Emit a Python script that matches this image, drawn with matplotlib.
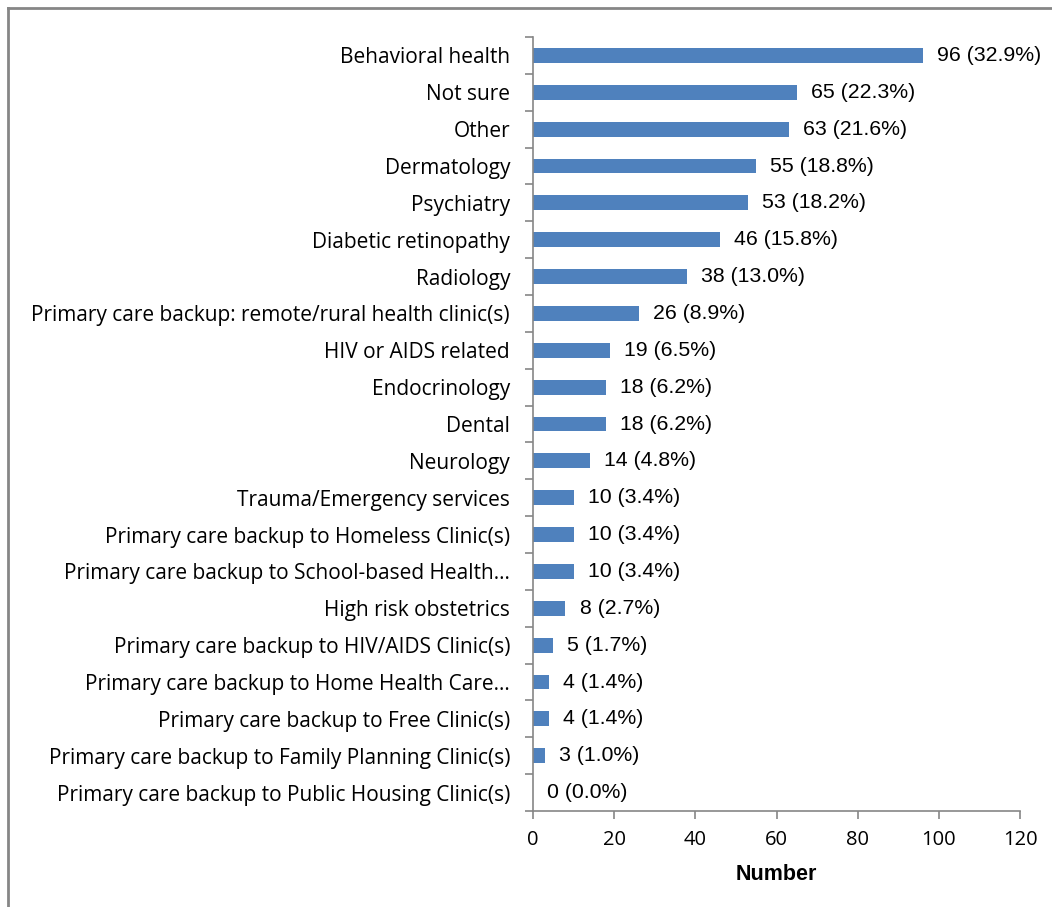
import matplotlib
matplotlib.use("Agg")
import matplotlib.pyplot as plt
from matplotlib.lines import Line2D

categories = [
    "Behavioral health",
    "Not sure",
    "Other",
    "Dermatology",
    "Psychiatry",
    "Diabetic retinopathy",
    "Radiology",
    "Primary care backup: remote/rural health clinic(s)",
    "HIV or AIDS related",
    "Endocrinology",
    "Dental",
    "Neurology",
    "Trauma/Emergency services",
    "Primary care backup to Homeless Clinic(s)",
    "Primary care backup to School-based Health\u2026",
    "High risk obstetrics",
    "Primary care backup to HIV/AIDS Clinic(s)",
    "Primary care backup to Home Health Care\u2026",
    "Primary care backup to Free Clinic(s)",
    "Primary care backup to Family Planning Clinic(s)",
    "Primary care backup to Public Housing Clinic(s)",
]
counts = [96, 65, 63, 55, 53, 46, 38, 26, 19, 18, 18, 14, 10, 10, 10, 8, 5, 4, 4, 3, 0]
percents = [32.9, 22.3, 21.6, 18.8, 18.2, 15.8, 13.0, 8.9, 6.5, 6.2, 6.2, 4.8, 3.4, 3.4, 3.4, 2.7, 1.7, 1.4, 1.4, 1.0, 0.0]
xticks = [0, 20, 40, 60, 80, 100, 120]
xlabel = "Number"

W, H = 1052, 907
fig = plt.figure(figsize=(W / 100, H / 100), dpi=100)

# outer frame (cut at right/bottom)
fig.add_artist(Line2D([8 / W, 8 / W], [0, 1 - 8 / H], transform=fig.transFigure,
                      color="#868686", lw=2))
fig.add_artist(Line2D([8 / W, 1.0], [1 - 8 / H, 1 - 8 / H], transform=fig.transFigure,
                      color="#868686", lw=2))

left, right = 533 / W, 1020 / W
top, bottom = 1 - 37 / H, 1 - 811 / H
ax = fig.add_axes([left, bottom, right - left, top - bottom])

n = len(categories)
ypos = list(range(n))
ax.barh(ypos, counts, height=0.4, color="#4f81bd")
ax.set_ylim(n - 0.5, -0.5)
ax.set_xlim(0, 120)

for y, c, p in zip(ypos, counts, percents):
    ax.text(c + 3.5, y, f"{c} ({p:.1f}%)", va="center", ha="left",
            fontsize=15.3, family="Liberation Sans", color="#000000")

ax.set_yticks(ypos)
ax.set_yticklabels(categories, fontsize=15, family="Open Sans")
ax.set_yticks([i - 0.5 for i in range(n + 1)], minor=True)
ax.tick_params(axis="y", which="major", length=0, pad=16.5)
ax.tick_params(axis="y", which="minor", length=6, color="#868686", width=1.2)

ax.set_xticks(xticks)
ax.set_xticklabels([str(t) for t in xticks], fontsize=14.5, family="Open Sans")
ax.tick_params(axis="x", length=6, color="#868686", width=1.2, pad=8)

ax.set_xlabel(xlabel, fontsize=15.5, fontweight="bold", family="Liberation Sans", labelpad=10)

for s in ["top", "right"]:
    ax.spines[s].set_visible(False)
for s in ["left", "bottom"]:
    ax.spines[s].set_color("#868686")
    ax.spines[s].set_linewidth(1.2)

fig.savefig("out.png", dpi=100)
